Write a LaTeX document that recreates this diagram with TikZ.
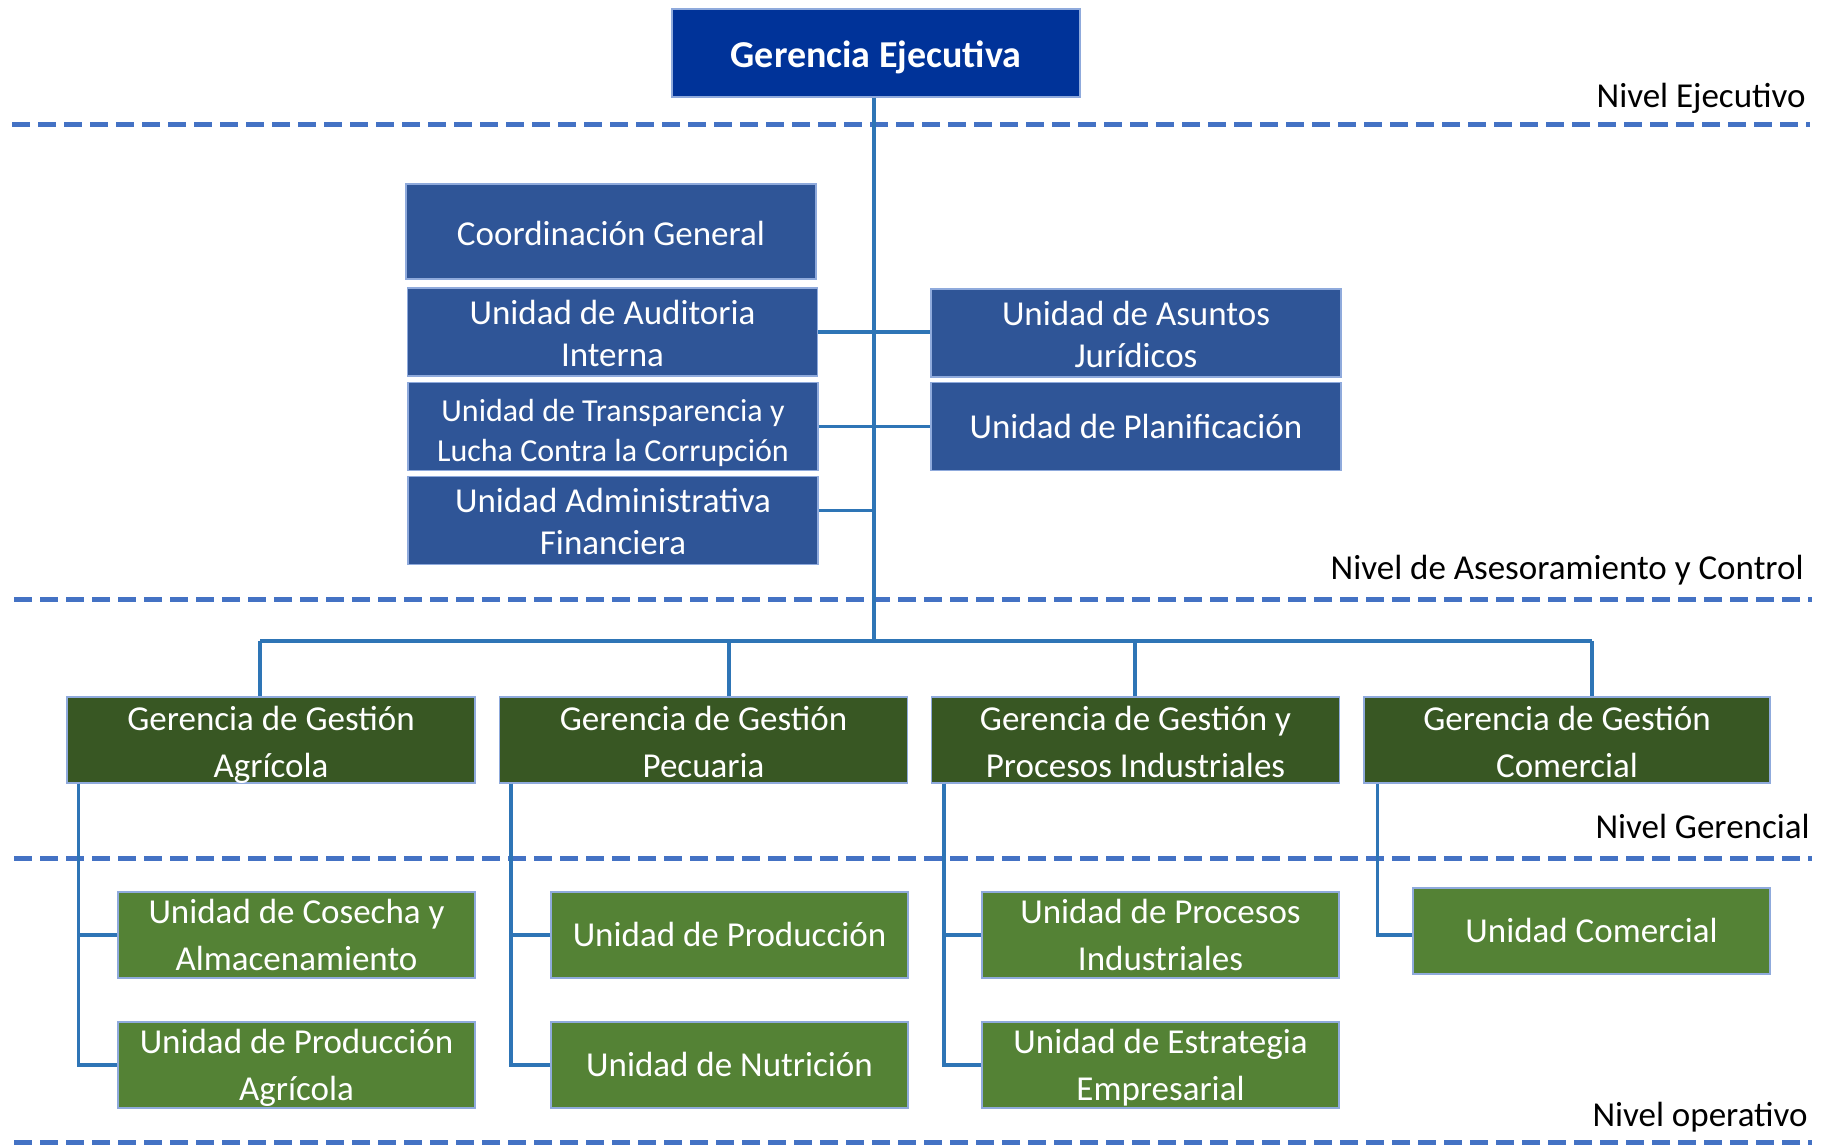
\documentclass[tikz,border=0pt]{standalone}
\usepackage{fontspec}
\setmainfont{Carlito}
\usepackage{tikz}
\usetikzlibrary{positioning, calc}

\definecolor{ejeblue}{HTML}{003399}
\definecolor{asesblue}{HTML}{2F5597}
\definecolor{gerdark}{HTML}{385723}
\definecolor{unigreen}{HTML}{548235}
\definecolor{edgeblue}{HTML}{4472C4}
\definecolor{linkblue}{HTML}{2E75B6}
\newcommand\nodetop{0pt}
\newcommand\nodebot{0pt}
\newcommand\nodefirst{0pt}
% apoyo para la primera linea de las cajas de dos lineas
\newcommand\fl{\rule{0pt}{\nodefirst}}

\begin{document}
\begin{tikzpicture}[x=0.5pt, y=-0.5pt,
    struts/.code 2 args={\def\nodetop{#1}\def\nodebot{#2}},
    firstline/.code={\def\nodefirst{#1}},
    boxbase/.style={rectangle,draw=edgeblue!60,line width=0.6pt,text=white,inner xsep=0pt,inner ysep=-2.5pt,align=center,
        execute at begin node={\rule{0pt}{\nodetop}},execute at end node={\rule[-\nodebot]{0pt}{\nodebot}}},
    ejebox/.style={boxbase,fill=ejeblue,minimum width=204pt,minimum height=44pt,struts={20pt}{5.5pt},font=\fontsize{19}{23}\selectfont\bfseries},
    asesbox/.style={boxbase,fill=asesblue,minimum width=205pt,minimum height=44pt,struts={19.5pt}{5.5pt},firstline=18.5pt,font=\fontsize{17.5}{21}\selectfont},
    gerbox/.style={boxbase,fill=gerdark,minimum width=204pt,minimum height=43pt,struts={17.5pt}{3.75pt},firstline=17.5pt,font=\fontsize{17.5}{23.5}\selectfont},
    unibox/.style={boxbase,fill=unigreen,minimum width=178.5pt,minimum height=43pt,struts={15.5pt}{4pt},firstline=16pt,font=\fontsize{17.5}{23.5}\selectfont},
    nivel/.style={anchor=east,inner sep=0pt,font=\fontsize{17.5}{21}\selectfont},
    sep/.style={edgeblue,line width=2.5pt,dash pattern=on 9pt off 4pt},
    link/.style={linkblue,line width=1.7pt}]
    \useasboundingbox (0,0) rectangle (1825,1145);

    % Nivel ejecutivo
    \node[ejebox] (gerej) at (876,53) {Gerencia Ejecutiva};
    \node[nivel] (nivej) at (1806,98) {Nivel Ejecutivo};
    \draw[sep] (12,125) -- (1810,125);

    % Nivel de asesoramiento y control
    \node[asesbox,minimum height=47.5pt] (coord) at (611,231.5) {Coordinación General};
    \node[asesbox] (audit) at (612.5,332) {\fl Unidad de Auditoria\\Interna};
    \node[asesbox,struts={24pt}{4pt},font=\fontsize{16}{20}\selectfont] (transp) at (613,426.5) {\fl Unidad de Transparencia y\\Lucha Contra la Corrupción};
    \node[asesbox] (admin) at (613,520.5) {\fl Unidad Administrativa\\Financiera};
    \node[asesbox] (jurid) at (1136,333) {\fl Unidad de Asuntos\\Jurídicos};
    \node[asesbox,struts={17.5pt}{5.5pt}] (plan) at (1136,426.5) {Unidad de Planificación};
    \node[nivel] (nivas) at (1804,570) {Nivel de Asesoramiento y Control};
    \draw[sep] (14,599) -- (1812,599);

    % Tronco y barra
    \coordinate (bus) at (874,641);
    \coordinate (dagr) at (260,641);
    \coordinate (dpec) at (729,641);
    \coordinate (dind) at (1135,641);
    \coordinate (dcom) at (1592,641);
    \draw[link] (gerej.south -| bus) -- (bus);
    \draw[link] (audit.east) -- (audit.east -| jurid.west);
    \draw[link] (transp.east) -- (transp.east -| plan.west);
    \draw[link] ([yshift=5pt]admin.east) -- ([yshift=5pt]admin.east -| bus);
    \draw[link] (dagr) -- (dcom);

    % Nivel gerencial
    \node[gerbox] (gagr) at (271,740) {\fl Gerencia de Gestión\\Agrícola};
    \node[gerbox] (gpec) at (703.5,740) {\fl Gerencia de Gestión\\Pecuaria};
    \node[gerbox] (gind) at (1135.5,740) {\fl Gerencia de Gestión y\\Procesos Industriales};
    \node[gerbox,minimum width=203pt] (gcom) at (1567,740) {\fl Gerencia de Gestión\\Comercial};
    \draw[link] (dagr) -- (dagr |- gagr.north);
    \draw[link] (dpec) -- (dpec |- gpec.north);
    \draw[link] (dind) -- (dind |- gind.north);
    \draw[link] (dcom) -- (dcom |- gcom.north);
    \node[nivel] (nivge) at (1810,826) {Nivel Gerencial};
    \draw[sep] (14,858) -- (1812,858);

    % Nivel operativo
    \node[unibox] (ucos) at (296.5,935) {\fl Unidad de Cosecha y\\Almacenamiento};
    \node[unibox] (uprag) at (296.5,1065) {\fl Unidad de Producción\\Agrícola};
    \node[unibox] (uprod) at (729.5,935) {Unidad de Producción};
    \node[unibox] (unut) at (729.5,1065) {Unidad de Nutrición};
    \node[unibox] (uproc) at (1160.5,935) {\fl Unidad de Procesos\\Industriales};
    \node[unibox] (uestr) at (1160.5,1065) {\fl Unidad de Estrategia\\Empresarial};
    \node[unibox] (ucom) at (1591.5,931) {Unidad Comercial};
    \draw[link] ([xshift=6pt]gagr.south west) |- (ucos.west);
    \draw[link] ([xshift=6pt]gagr.south west) |- (uprag.west);
    \draw[link] ([xshift=6pt]gpec.south west) |- (uprod.west);
    \draw[link] ([xshift=6pt]gpec.south west) |- (unut.west);
    \draw[link] ([xshift=6.5pt]gind.south west) |- (uproc.west);
    \draw[link] ([xshift=6.5pt]gind.south west) |- (uestr.west);
    \draw[link] ([xshift=7pt]gcom.south west) |- ([yshift=-2pt]ucom.west);
    \node[nivel] (nivop) at (1808,1117) {Nivel operativo};
    \draw[sep] (14,1142) -- (1812,1142);
\end{tikzpicture}
\end{document}
